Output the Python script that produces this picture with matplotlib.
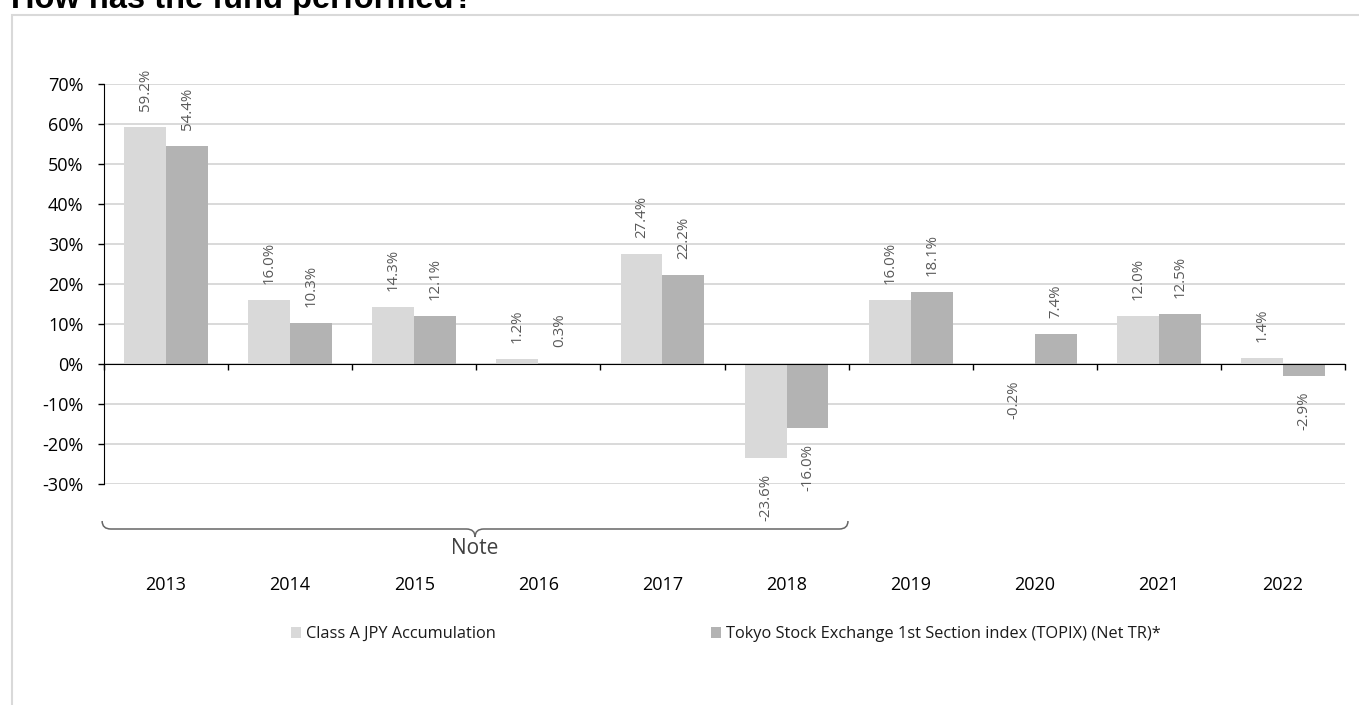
import matplotlib
matplotlib.use("Agg")
import matplotlib.pyplot as plt
import numpy as np
from matplotlib.path import Path
from matplotlib.patches import PathPatch, Rectangle
from matplotlib.ticker import FuncFormatter, FixedLocator

plt.rcParams['font.family'] = ['Open Sans', 'DejaVu Sans']

years = ['2013', '2014', '2015', '2016', '2017', '2018', '2019', '2020', '2021', '2022']
fund = [59.2, 16.0, 14.3, 1.2, 27.4, -23.6, 16.0, -0.2, 12.0, 1.4]
index = [54.4, 10.3, 12.1, 0.3, 22.2, -16.0, 18.1, 7.4, 12.5, -2.9]
series_names = ['Class A JPY Accumulation',
                'Tokyo Stock Exchange 1st Section index (TOPIX) (Net TR)*']
yticks = [-30, -20, -10, 0, 10, 20, 30, 40, 50, 60, 70]
note_label = 'Note'
title = 'How has the fund performed?'

W, H = 1359, 705
fig = plt.figure(figsize=(W / 100, H / 100), dpi=100)
ax = fig.add_axes([104 / W, (H - 484) / H, (1345 - 104) / W, 400 / H])

c_light = '#d9d9d9'
c_dark = '#b3b3b3'
bw = 0.338
x = np.arange(len(years))
b1 = ax.bar(x - bw / 2, fund, bw, color=c_light, label=series_names[0], zorder=2)
b2 = ax.bar(x + bw / 2, index, bw, color=c_dark, label=series_names[1], zorder=2)

for bars, vals in ((b1, fund), (b2, index)):
    for rect, v in zip(bars, vals):
        cx = rect.get_x() + rect.get_width() / 2
        if v >= 0:
            ax.annotate(f'{v:.1f}%', (cx, v), xytext=(0, 11.5), textcoords='offset points',
                        rotation=90, ha='center', va='bottom', fontsize=10.8,
                        color='#595959', annotation_clip=False)
        else:
            ax.annotate(f'{v:.1f}%', (cx, v), xytext=(0, -11.5), textcoords='offset points',
                        rotation=90, ha='center', va='top', fontsize=10.8,
                        color='#595959', annotation_clip=False)

ax.set_xlim(-0.5, len(years) - 0.5)
ax.set_ylim(-30, 70)
ax.set_yticks(yticks)
ax.yaxis.set_major_formatter(FuncFormatter(lambda v, p: f'{int(round(v))}%'))
ax.tick_params(axis='y', length=6 * 0.72, width=1, color='black', labelsize=13,
               labelcolor='black', pad=10.5)
ax.yaxis.grid(True, color='#d9d9d9', lw=1.4, zorder=0)
ax.set_axisbelow(True)

for s in ('top', 'right'):
    ax.spines[s].set_visible(False)
ax.spines['left'].set_color('black')
ax.spines['bottom'].set_position(('data', 0))
ax.spines['bottom'].set_color('black')
ax.spines['bottom'].set_zorder(3)

ax.set_xticks(x)
ax.set_xticklabels(years)
ax.xaxis.set_minor_locator(FixedLocator(np.arange(-0.5, len(years), 1.0)))
ax.tick_params(axis='x', which='major', length=0, pad=153, labelsize=13, labelcolor='black')
ax.tick_params(axis='x', which='minor', length=6 * 0.72, width=1, color='black', direction='out')

# brace under 2013-2018
tr = ax.get_xaxis_transform()
x0, x1 = -0.515, 5.495
xm = (x0 + x1) / 2
yt, yh, yb = -0.0925, -0.1125, -0.1325
d = 0.07
verts = [(x0, yt), (x0, yh), (x0 + d, yh),
         (xm - d, yh), (xm, yh), (xm, yb),
         (xm, yh), (xm + d, yh),
         (x1 - d, yh), (x1, yh), (x1, yt)]
codes = [Path.MOVETO, Path.CURVE3, Path.CURVE3,
         Path.LINETO, Path.CURVE3, Path.CURVE3,
         Path.CURVE3, Path.CURVE3,
         Path.LINETO, Path.CURVE3, Path.CURVE3]
brace = PathPatch(Path(verts, codes), transform=tr, fill=False, edgecolor='#666666',
                  lw=1.1, clip_on=False)
ax.add_patch(brace)
ax.text(xm, -0.1625, note_label, transform=tr, ha='center', va='center', fontsize=15,
        color='#404040')

# legends
leg_kw = dict(frameon=False, fontsize=11.8, handlelength=0.62, handleheight=0.62,
              handletextpad=0.3, borderpad=0, borderaxespad=0, loc='center left',
              labelcolor='#1a1a1a')
fig.legend(handles=[b1], labels=[series_names[0]], bbox_to_anchor=(291 / W, 1 - 634 / H), **leg_kw)
fig.legend(handles=[b2], labels=[series_names[1]], bbox_to_anchor=(711 / W, 1 - 634 / H), **leg_kw)

# frame and title
fig.add_artist(Rectangle((12 / W, -0.05), 1.5, (1 - 15 / H) + 0.05, transform=fig.transFigure,
                         fill=False, edgecolor='#d9d9d9', lw=1.5))
fig.text(11 / W, 1 - 8 / H, title, fontsize=23.5, fontweight='bold',
         family=['Liberation Sans', 'DejaVu Sans'], va='baseline', ha='left', color='black')

fig.savefig('out.png', dpi=100)
